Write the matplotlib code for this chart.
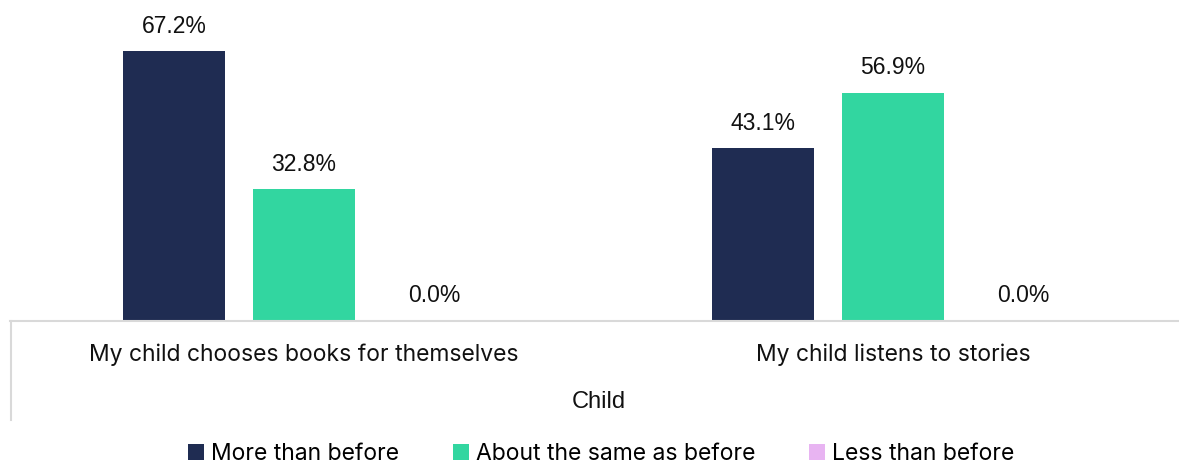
import numpy as np
import matplotlib.pyplot as plt
from matplotlib.lines import Line2D
from matplotlib.patches import Patch

# -- Data ---------------------------------------------------------------------
categories = ['My child chooses books for themselves', 'My child listens to stories']
series_names = ['More than before', 'About the same as before', 'Less than before']
more = [67.2, 43.1]
same = [32.8, 56.9]
less = [0.0, 0.0]
group_label = 'Child'

colors = ['#1f2c52', '#32d6a0', '#e8b4f2']

# -- Figure -------------------------------------------------------------------
W, H = 1179, 466
cat_w = 589.0
fig = plt.figure(figsize=(W / 100, H / 100), dpi=100)
ax = fig.add_axes([9.5 / W, (H - 321) / H, 2 * cat_w / W, 321 / H])

x = np.arange(len(categories))
width = 102 / cat_w
offsets = [-130 / cat_w, 0, 130 / cat_w]

for vals, off, col in zip([more, same, less], offsets, colors):
    bars = ax.bar(x + off, vals, width=width, color=col)
    for b, v in zip(bars, vals):
        ax.annotate(f'{v:.1f}%', (b.get_x() + b.get_width() / 2, v),
                    xytext=(0, 25 * 0.72), textcoords='offset points',
                    ha='center', va='center', fontsize=16.5,
                    family='Liberation Sans', color='#111111')

ax.set_xlim(-0.5, 1.5)
ax.set_ylim(0, 80)
ax.set_yticks([])
ax.set_xticks([])
for s in ['top', 'right', 'left']:
    ax.spines[s].set_visible(False)
ax.spines['bottom'].set_color('#d9d9d9')
ax.spines['bottom'].set_linewidth(1.5)

# category labels under the axis
for xi, cat in zip(x, categories):
    ax.annotate(cat, (xi, 0), xytext=(0, -34 * 0.72), textcoords='offset points',
                ha='center', va='center', fontsize=16.5, family='Inter',
                color='#111111', annotation_clip=False)

# left border of the category box
fig.add_artist(Line2D([10.5 / W, 10.5 / W], [(H - 321) / H, (H - 420) / H],
                      color='#d9d9d9', lw=1.5))

fig.text(599 / W, (H - 402) / H, group_label, ha='center', va='center',
         fontsize=17, family='Liberation Sans', color='#111111')

# legend
handles = [Patch(facecolor=c, edgecolor='none') for c in colors]
fig.legend(handles, series_names, loc='center', bbox_to_anchor=(0.510, (H - 454) / H),
           ncol=3, frameon=False, prop={'family': 'Inter', 'size': 16.5},
           handlelength=0.7, handleheight=0.7, handletextpad=0.3,
           columnspacing=2.35, borderpad=0.2)

fig.savefig('out.png', dpi=100)
